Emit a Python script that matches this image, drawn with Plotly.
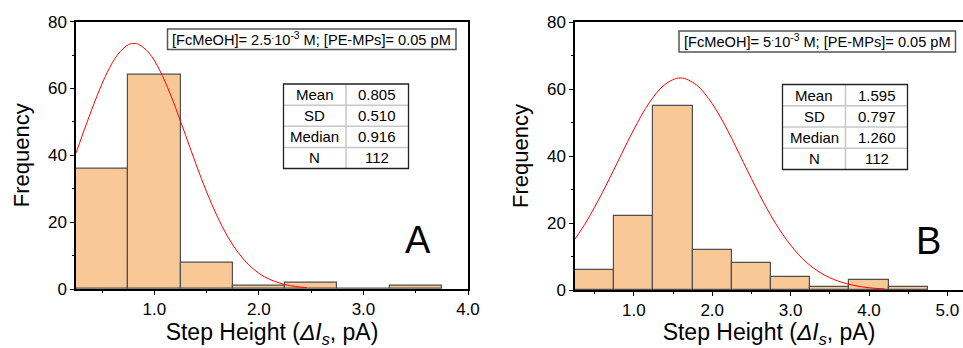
import plotly.graph_objects as go

# ---------------- data ----------------
bin_centers_a = [0.5, 1.0, 1.5, 2.0, 2.5, 3.0, 3.5]
counts_a = [36, 64, 8, 1, 2, 0, 1]
bin_centers_b = [0.5, 1.0, 1.5, 2.0, 2.5, 3.0, 3.5, 4.0, 4.5]
counts_b = [6, 22, 55, 12, 8, 4, 1, 3, 1]
bin_width = 0.5

# normal-fit curves
curve_a_x = [0.25, 0.35, 0.45, 0.55, 0.65, 0.75, 0.805, 0.85, 0.95, 1.05, 1.15, 1.25,
             1.35, 1.45, 1.55, 1.65, 1.75, 1.85, 1.95, 2.05, 2.15, 2.25, 2.35, 2.46]
curve_a_y = [40.7, 49.4, 57.7, 64.9, 70.2, 73.1, 73.5, 73.2, 70.6, 65.5, 58.5, 50.2,
             41.5, 33.0, 25.3, 18.6, 13.2, 9.0, 5.9, 3.7, 2.3, 1.3, 0.75, 0.38]
curve_b_x = [0.25, 0.4, 0.6, 0.8, 1.0, 1.2, 1.4, 1.595, 1.8, 2.0, 2.2, 2.4, 2.6,
             2.8, 3.0, 3.2, 3.4, 3.6, 3.8, 4.0, 4.2]
curve_b_y = [15.2, 20.6, 29.1, 38.5, 47.9, 56.0, 61.4, 63.3, 61.2, 55.6, 47.5, 38.0, 28.6,
             20.2, 13.4, 8.3, 4.9, 2.7, 1.4, 0.67, 0.30]

x_ticks_a = [1, 2, 3, 4]
x_ticks_b = [1, 2, 3, 4, 5]
x_minor_a = [0.5, 1.5, 2.5, 3.5]
x_minor_b = [0.5, 1.5, 2.5, 3.5, 4.5]
y_ticks = [0, 20, 40, 60, 80]
y_minor = [10, 30, 50, 70]

stat_labels = ["Mean", "SD", "Median", "N"]
stats_a = ["0.805", "0.510", "0.916", "112"]
stats_b = ["1.595", "0.797", "1.260", "112"]

cond_a = "[FcMeOH]= 2.5<sup>.</sup>10<sup>-3</sup> M; [PE-MPs]= 0.05 pM"
cond_b = "[FcMeOH]= 5<sup>.</sup>10<sup>-3</sup> M; [PE-MPs]= 0.05 pM"
panel_labels = ["A", "B"]
x_title = "Step Height (<i>ΔI</i><sub><i>s</i></sub>, pA)"
y_title = "Frequency"

# ---------------- styling ----------------
W, H = 963, 348
FONT = "Liberation Sans, Arial, sans-serif"
BAR_FILL = "#F9C897"
BAR_LINE = "#505050"


def px(x):
    return x / W


def py(y):
    return 1 - y / H


fig = go.Figure()

fig.add_trace(go.Bar(x=bin_centers_a, y=counts_a, width=bin_width,
                     marker=dict(color=BAR_FILL, line=dict(color=BAR_LINE, width=1.2)),
                     xaxis="x", yaxis="y", showlegend=False))
fig.add_trace(go.Scatter(x=curve_a_x, y=curve_a_y, mode="lines",
                         line=dict(color="#FF0000", width=1, shape="spline"),
                         xaxis="x", yaxis="y", showlegend=False))
fig.add_trace(go.Bar(x=bin_centers_b, y=counts_b, width=bin_width,
                     marker=dict(color=BAR_FILL, line=dict(color=BAR_LINE, width=1.2)),
                     xaxis="x2", yaxis="y2", showlegend=False))
fig.add_trace(go.Scatter(x=curve_b_x, y=curve_b_y, mode="lines",
                         line=dict(color="#FF0000", width=1, shape="spline"),
                         xaxis="x2", yaxis="y2", showlegend=False))

tickfont = dict(family=FONT, size=17, color="black")


def xaxis_cfg(domain, rng, anchor, ticks, minor):
    return dict(domain=domain, range=rng, anchor=anchor,
                tickvals=ticks, ticktext=[f"{t:.1f}" for t in ticks],
                ticks="outside", ticklen=4, tickwidth=1, tickcolor="black",
                minor=dict(tickvals=minor, ticks="outside",
                           ticklen=2, tickwidth=1, tickcolor="black"),
                showline=True, linecolor="black", linewidth=1.5, mirror=True,
                showgrid=False, zeroline=False, tickfont=tickfont,
                title=dict(text=x_title, font=dict(family=FONT, size=23, color="black"),
                           standoff=16),
                automargin=False)


def yaxis_cfg(domain, anchor, mirror):
    return dict(domain=domain, range=[0, 80], anchor=anchor,
                tickvals=y_ticks,
                ticks="outside", ticklen=4, tickwidth=1, tickcolor="black",
                minor=dict(tickvals=y_minor, ticks="outside",
                           ticklen=2, tickwidth=1, tickcolor="black"),
                showline=True, linecolor="black", linewidth=1.5, mirror=mirror,
                showgrid=False, zeroline=False, tickfont=tickfont,
                title=dict(text=y_title, font=dict(family=FONT, size=22, color="black"),
                           standoff=12),
                automargin=False)


fig.update_layout(
    width=W, height=H,
    margin=dict(l=0, r=0, t=0, b=0),
    paper_bgcolor="white", plot_bgcolor="white",
    bargap=0,
    xaxis=xaxis_cfg([px(76), px(468)], [0.25, 4.0], "y", x_ticks_a, x_minor_a),
    yaxis=yaxis_cfg([py(289), py(21.7)], "x", True),
    xaxis2=xaxis_cfg([px(575), 1.0], [0.25, 5.199], "y2", x_ticks_b, x_minor_b),
    yaxis2=yaxis_cfg([py(290), py(22)], "x2", False),
)

shapes = []
annotations = []

# condition boxes
for (x0, y0, x1, y1), txt in [((167.5, 29, 456, 49.5), cond_a),
                              ((679, 31, 955.5, 52), cond_b)]:
    shapes.append(dict(type="rect", xref="paper", yref="paper",
                       x0=px(x0), x1=px(x1), y0=py(y1), y1=py(y0),
                       line=dict(color="#555555", width=1.5)))
    annotations.append(dict(xref="paper", yref="paper", x=px((x0 + x1) / 2), y=py((y0 + y1) / 2 - 0.5),
                            text=txt, showarrow=False, xanchor="center", yanchor="middle",
                            font=dict(family=FONT, size=14.6, color="black")))


# stats tables
def add_table(x0, xm, x1, y0, y1, values):
    rh = (y1 - y0) / 4
    for k in range(1, 4):
        yy = y0 + k * rh
        shapes.append(dict(type="line", xref="paper", yref="paper",
                           x0=px(x0), x1=px(x1), y0=py(yy), y1=py(yy),
                           line=dict(color="#C8C8C8", width=1.5)))
    shapes.append(dict(type="line", xref="paper", yref="paper",
                       x0=px(xm), x1=px(xm), y0=py(y0), y1=py(y1),
                       line=dict(color="#C8C8C8", width=1.5)))
    shapes.append(dict(type="rect", xref="paper", yref="paper",
                       x0=px(x0), x1=px(x1), y0=py(y1), y1=py(y0),
                       line=dict(color="#222222", width=1.3)))
    for k in range(4):
        yc = y0 + (k + 0.5) * rh
        annotations.append(dict(xref="paper", yref="paper", x=px((x0 + xm) / 2), y=py(yc),
                                text=stat_labels[k], showarrow=False,
                                xanchor="center", yanchor="middle",
                                font=dict(family=FONT, size=15, color="black")))
        annotations.append(dict(xref="paper", yref="paper", x=px((xm + x1) / 2), y=py(yc),
                                text=values[k], showarrow=False,
                                xanchor="center", yanchor="middle",
                                font=dict(family=FONT, size=15, color="black")))


add_table(283.5, 346, 408.5, 84, 168.5, stats_a)
add_table(782.5, 845.5, 907.5, 84.5, 169.5, stats_b)

# panel letters
for (cx, cy), lab in [((418, 240), panel_labels[0]), ((928, 241), panel_labels[1])]:
    annotations.append(dict(xref="paper", yref="paper", x=px(cx), y=py(cy), text=lab,
                            showarrow=False, xanchor="center", yanchor="middle",
                            font=dict(family=FONT, size=38, color="black")))

fig.update_layout(shapes=shapes, annotations=annotations)

fig.write_html("out.html")
